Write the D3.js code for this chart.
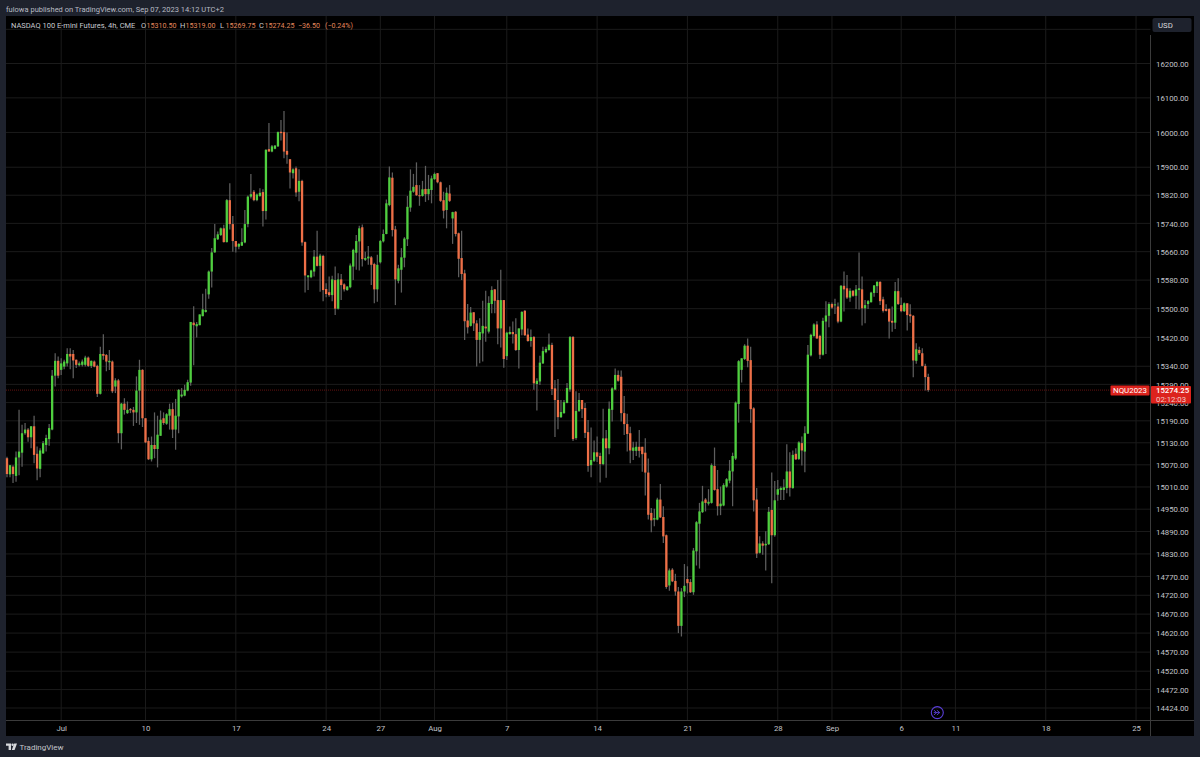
<!DOCTYPE html>
<html>
<head>
<meta charset="utf-8">
<script src="https://cdn.jsdelivr.net/npm/d3@7"></script>
<style>
    html, body { margin: 0; padding: 0; background: #1e222d; overflow: hidden; }
    svg { display: block; }
    text { font-family: Roboto, "Liberation Sans", sans-serif; }
</style>
</head>
<body>
<div class="chart"></div>
<script>
const opens = [
    15088,15044,15065,15040,15090,15103,15156,15166,15145,15175,
    15100,15059,15101,15124,15140,15166,15314,15355,15330,15339,
    15348,15374,15374,15358,15343,15344,15344,15364,15341,15353,
    15341,15264,15374,15371,15351,15353,15284,15301,15156,15237,
    15211,15222,15220,15213,15273,15330,15197,15135,15085,15124,
    15113,15149,15197,15182,15204,15222,15166,15202,15257,15259,
    15273,15295,15461,15451,15454,15479,15491,15540,15604,15658,
    15695,15707,15726,15687,15806,15738,15690,15674,15677,15686,
    15738,15816,15830,15806,15818,15829,15775,15952,15945,15953,
    15960,16002,16001,15947,15923,15883,15897,15830,15861,15687,
    15588,15588,15604,15646,15620,15648,15555,15546,15538,15580,
    15500,15582,15568,15552,15560,15618,15657,15689,15729,15637,
    15641,15644,15625,15554,15630,15689,15710,15792,15870,15723,
    15578,15609,15643,15695,15785,15830,15849,15820,15818,15838,
    15823,15835,15866,15883,15857,15806,15778,15825,15754,15773,
    15712,15642,15599,15467,15452,15490,15459,15413,15431,15450,
    15436,15513,15554,15524,15445,15524,15368,15429,15435,15429,
    15385,15442,15494,15428,15410,15421,15291,15298,15348,15379,
    15385,15399,15279,15247,15200,15211,15239,15276,15421,15143,
    15217,15247,15225,15159,15069,15081,15104,15094,15072,15142,
    15115,15220,15276,15316,15311,15211,15181,15156,15108,15108,
    15119,15119,15103,15049,14940,14922,14922,14976,14929,14880,
    14746,14788,14758,14730,14639,14730,14763,14755,14728,14837,
    14911,14942,14976,14965,14967,15067,15004,14958,14960,15011,
    15027,15052,15087,15236,15330,15360,15397,15357,15224,14976,
    14833,14858,14853,14856,14948,14880,14989,15002,15002,15007,
    15052,15007,15100,15086,15129,15106,15155,15370,15424,15456,
    15424,15372,15464,15480,15513,15510,15506,15464,15564,15557,
    15531,15550,15536,15552,15554,15501,15513,15518,15544,15563,
    15575,15526,15499,15499,15466,15461,15549,15510,15493,15515,
    15484,15480,15355,15385,15376,15341,15310.5
];
const highs = [
    15092,15069,15069,15106,15220,15179,15184,15170,15176,15204,
    15120,15115,15135,15152,15181,15330,15376,15367,15362,15358,
    15390,15390,15385,15359,15353,15359,15369,15367,15356,15356,
    15344,15394,15429,15374,15385,15356,15307,15305,15239,15252,
    15243,15225,15228,15312,15358,15332,15197,15145,15147,15213,
    15204,15218,15213,15211,15237,15239,15250,15277,15280,15289,
    15303,15463,15507,15463,15484,15542,15556,15607,15670,15738,
    15717,15728,15736,15809,15854,15761,15690,15684,15726,15778,
    15819,15881,15835,15825,15840,15837,15952,16027,15964,15964,
    16003,16036,16062,16000,15923,15897,15902,15894,15864,15689,
    15594,15609,15665,15719,15654,15651,15571,15590,15592,15618,
    15599,15597,15571,15563,15627,15668,15707,15733,15737,15660,
    15676,15648,15629,15651,15693,15723,15808,15902,15885,15733,
    15623,15670,15701,15818,15894,15881,15914,15849,15861,15904,
    15878,15876,15885,15883,15859,15830,15842,15849,15773,15775,
    15714,15719,15609,15513,15505,15490,15468,15473,15522,15550,
    15535,15563,15554,15580,15609,15524,15436,15450,15464,15473,
    15445,15493,15496,15445,15442,15424,15307,15369,15394,15394,
    15431,15405,15302,15305,15247,15247,15294,15424,15424,15271,
    15266,15247,15239,15192,15172,15136,15147,15103,15223,15165,
    15243,15282,15334,15328,15328,15258,15209,15174,15133,15133,
    15165,15119,15142,15087,14953,14951,14981,15018,14958,14882,
    14791,14792,14777,14742,14739,14803,14797,14763,14846,14918,
    14967,15013,14980,15004,15074,15117,15056,15011,15020,15034,
    15083,15103,15243,15357,15362,15401,15417,15394,15227,15007,
    14877,14864,14891,14956,15049,15026,15029,15011,15031,15126,
    15104,15109,15115,15134,15147,15175,15399,15430,15459,15465,
    15427,15475,15521,15518,15517,15528,15517,15566,15604,15594,
    15557,15552,15566,15658,15590,15524,15524,15547,15566,15577,
    15577,15533,15512,15501,15506,15575,15585,15531,15517,15515,
    15512,15482,15404,15394,15390,15347,15319
];
const lows = [
    15036,15036,15021,15024,15042,15065,15152,15133,15115,15074,
    15028,15036,15100,15106,15122,15164,15284,15307,15316,15332,
    15339,15332,15307,15335,15339,15339,15339,15338,15335,15337,
    15255,15262,15358,15326,15330,15266,15266,15129,15112,15207,
    15209,15211,15176,15184,15179,15173,15129,15083,15079,15088,
    15063,15149,15179,15179,15166,15143,15111,15156,15254,15257,
    15271,15286,15343,15420,15454,15479,15489,15528,15559,15657,
    15693,15704,15686,15686,15723,15660,15658,15667,15676,15684,
    15729,15811,15803,15803,15816,15731,15751,15945,15943,15952,
    15958,15977,15926,15910,15839,15868,15816,15803,15677,15545,
    15552,15585,15590,15618,15547,15521,15532,15533,15521,15482,
    15498,15524,15548,15550,15557,15580,15609,15607,15618,15634,
    15623,15566,15515,15519,15627,15686,15709,15789,15703,15510,
    15571,15545,15616,15676,15773,15827,15818,15790,15816,15801,
    15806,15797,15864,15854,15801,15754,15726,15801,15682,15703,
    15588,15580,15413,15431,15450,15438,15339,15348,15353,15408,
    15431,15487,15487,15401,15392,15336,15357,15428,15403,15382,
    15334,15426,15424,15408,15394,15275,15218,15288,15346,15376,
    15383,15261,15146,15167,15198,15209,15238,15270,15135,15138,
    15214,15198,15143,15051,15036,15078,15078,15022,15069,15035,
    15099,15188,15274,15297,15188,15151,15106,15074,15083,15094,
    15090,15051,14987,14922,14888,14904,14920,14926,14859,14737,
    14732,14755,14719,14620,14611,14715,14725,14726,14721,14799,
    14791,14940,14944,14960,14965,15000,14933,14934,14958,15008,
    15020,14958,15083,15185,15295,15357,15337,15185,14944,14819,
    14831,14828,14786,14854,14752,14876,14973,14975,14975,14993,
    14984,15005,15083,15083,15068,15050,15154,15367,15422,15416,
    15360,15370,15374,15448,15499,15485,15459,15462,15492,15527,
    15519,15533,15499,15498,15453,15459,15499,15517,15533,15544,
    15510,15489,15492,15417,15436,15443,15510,15490,15491,15439,
    15461,15310,15347,15371,15339,15273,15269.75
];
const closes = [
    15045,15069,15045,15090,15106,15156,15166,15145,15175,15097,
    15060,15109,15129,15143,15170,15314,15355,15314,15348,15353,
    15374,15367,15356,15344,15348,15353,15364,15341,15355,15339,
    15264,15374,15369,15353,15355,15271,15301,15156,15237,15220,
    15220,15219,15213,15273,15330,15197,15131,15085,15124,15113,
    15152,15193,15184,15208,15222,15166,15204,15275,15262,15275,
    15296,15463,15454,15457,15484,15498,15496,15604,15658,15698,
    15709,15726,15687,15806,15738,15690,15674,15682,15687,15738,
    15816,15823,15806,15822,15827,15775,15950,15945,15960,15962,
    16001,15998,15945,15936,15885,15894,15828,15861,15686,15593,
    15593,15607,15646,15620,15649,15552,15541,15538,15582,15500,
    15582,15566,15554,15562,15621,15665,15690,15726,15639,15642,
    15646,15623,15554,15623,15690,15710,15797,15871,15721,15582,
    15613,15644,15697,15787,15833,15844,15820,15818,15837,15823,
    15838,15868,15881,15857,15804,15776,15827,15804,15772,15710,
    15640,15597,15465,15448,15489,15459,15413,15435,15452,15445,
    15516,15552,15522,15445,15524,15360,15433,15435,15429,15385,
    15445,15491,15426,15410,15421,15293,15300,15350,15382,15388,
    15400,15277,15247,15200,15214,15241,15280,15421,15140,15217,
    15247,15222,15157,15067,15083,15104,15092,15072,15142,15115,
    15223,15279,15316,15300,15211,15181,15154,15109,15117,15119,
    15108,15099,15049,14935,14920,14926,14976,14928,14877,14742,
    14786,14757,14730,14639,14730,14745,14752,14728,14839,14915,
    14944,14971,14967,14970,15069,15002,14958,14965,15015,15031,
    15054,15094,15240,15354,15362,15397,15355,15222,14974,14831,
    14858,14852,14857,14943,14880,14974,15004,15007,15009,15052,
    15008,15097,15085,15131,15109,15156,15372,15427,15456,15417,
    15372,15466,15481,15513,15503,15512,15464,15564,15554,15531,
    15550,15536,15554,15557,15501,15510,15521,15545,15565,15575,
    15521,15494,15494,15464,15461,15549,15513,15493,15515,15482,
    15479,15356,15387,15376,15341,15310,15274.25
];

// bar index of each date label on the time axis
const timeTicks = [18, 46, 76, 106, 124, 142, 166, 196, 226, 256, 274, 297, 315, 345, 375];
const timeLabels = ['Jul', '10', '17', '24', '27', 'Aug', '7', '14', '21', '28', 'Sep', '6', '11', '18', '25'];
const priceTicks = [16200, 16100, 16000, 15900, 15820, 15740, 15660, 15580, 15500, 15420, 15340, 15290,
    15240, 15190, 15130, 15070, 15010, 14950, 14890, 14830, 14770, 14720, 14670, 14620, 14570, 14520, 14472, 14424];
const extraGridPrices = [16300];
const lastPrice = 15274.25;
const legendParts = [
    ['O', '15310.50'], ['H', '15319.00'], ['L', '15269.75'], ['C', '15274.25']
];

const width = 1200;
const height = 757;
const panel = { left: 6, right: 1194, top: 16, bottom: 736 };
const axisX = 1150.5;
const axisY = 720.5;

const up = '#4fcf3f';
const down = '#ee6f47';
const wickColor = '#5e5e5e';
const gridColor = '#1b1b1b';
const red = '#dc231d';
const textColor = '#c2c4ca';
const orange = '#e58a5e';

const x = d3.scaleLinear().domain([0, 306]).range([7, 928.3]);
const y = d3.scaleLog().domain([16200, 14424]).range([63.5, 708]);

const svg = d3.select('.chart').append('svg').attr('width', width).attr('height', height);

svg.append('rect').attr('width', width).attr('height', height).attr('fill', '#1e222d');
svg.append('rect')
    .attr('x', panel.left).attr('y', panel.top)
    .attr('width', panel.right - panel.left).attr('height', panel.bottom - panel.top)
    .attr('fill', '#000');

// grid
const grid = svg.append('g');
grid.selectAll('.h').data(priceTicks.concat(extraGridPrices)).enter().append('line')
    .attr('x1', panel.left).attr('x2', axisX)
    .attr('y1', d => y(d)).attr('y2', d => y(d))
    .attr('stroke', gridColor);
grid.selectAll('.v').data(timeTicks).enter().append('line')
    .attr('x1', d => x(d)).attr('x2', d => x(d))
    .attr('y1', panel.top).attr('y2', axisY)
    .attr('stroke', gridColor);

// last price line
svg.append('line')
    .attr('x1', panel.left).attr('x2', axisX)
    .attr('y1', y(lastPrice)).attr('y2', y(lastPrice))
    .attr('stroke', '#641210').attr('stroke-dasharray', '1,1');

// candles
const bars = d3.range(opens.length);
svg.append('g').selectAll('line').data(bars).enter().append('line')
    .attr('x1', i => x(i)).attr('x2', i => x(i))
    .attr('y1', i => y(highs[i])).attr('y2', i => y(lows[i]))
    .attr('stroke', wickColor).attr('stroke-width', 1.25);
svg.append('g').selectAll('rect').data(bars).enter().append('rect')
    .attr('x', i => x(i) - 1.15)
    .attr('width', 2.3)
    .attr('y', i => y(Math.max(opens[i], closes[i])))
    .attr('height', i => Math.max(1, Math.abs(y(opens[i]) - y(closes[i]))))
    .attr('fill', i => closes[i] >= opens[i] ? up : down);

// price axis
const yAxis = d3.axisRight(y).tickValues(priceTicks).tickSize(0).tickPadding(0).tickFormat(d3.format('.2f'));
const yAxisG = svg.append('g').attr('transform', `translate(${axisX + 5.5},0)`).call(yAxis);
yAxisG.select('.domain').remove();
yAxisG.selectAll('text').attr('fill', textColor).attr('font-size', 7.8).attr('dy', '0.35em')
    .style('font-family', 'Roboto');

// time axis
const xAxis = d3.axisBottom(x).tickValues(timeTicks).tickSize(0).tickPadding(0)
    .tickFormat(d => timeLabels[timeTicks.indexOf(d)]);
const xAxisG = svg.append('g').attr('transform', `translate(0,${axisY + 4.5})`).call(xAxis);
xAxisG.select('.domain').remove();
xAxisG.selectAll('text').attr('fill', textColor).attr('font-size', 7.8);

// axis borders
svg.append('line').attr('x1', panel.left).attr('x2', panel.right).attr('y1', axisY).attr('y2', axisY).attr('stroke', '#3b3b3b');
svg.append('line').attr('x1', axisX).attr('x2', axisX).attr('y1', 35).attr('y2', panel.bottom).attr('stroke', '#3b3b3b');

// USD button
svg.append('rect').attr('x', 1152.5).attr('y', 18).attr('width', 39).attr('height', 14).attr('rx', 2).attr('fill', '#1e222d');
svg.append('text').attr('x', 1158).attr('y', 28).attr('font-size', 7.8).attr('fill', '#d8d9dc').text('USD');

// last price labels
svg.append('rect').attr('x', 1110.5).attr('y', 385.5).attr('width', 39).attr('height', 10).attr('rx', 1).attr('fill', red);
svg.append('text').attr('x', 1130).attr('y', 393.3).attr('text-anchor', 'middle').attr('font-size', 7.9).attr('fill', '#fff').text('NQU2023');
svg.append('rect').attr('x', 1151).attr('y', 386).attr('width', 40).attr('height', 17.5).attr('rx', 1).attr('fill', red);
svg.append('text').attr('x', 1156).attr('y', 393.3).attr('font-size', 7.8).attr('font-weight', 500).attr('fill', '#fff').text('15274.25');
svg.append('text').attr('x', 1156).attr('y', 401.5).attr('font-size', 7.8).attr('fill', '#f3c9c7').text('02:12:03');

// header and legend
svg.append('text').attr('x', 6).attr('y', 12).attr('font-size', 7.5).attr('fill', '#b8bbc3')
    .text('fulowa published on TradingView.com, Sep 07, 2023 14:12 UTC+2');
svg.append('text').attr('x', 11).attr('y', 27.8).attr('font-size', 7.5).attr('fill', '#c9cbd0')
    .text('NASDAQ 100 E-mini Futures, 4h, CME');

const legendX = [141, 180, 220, 259];
legendParts.forEach(function (d, i) {
    svg.append('text').attr('x', legendX[i]).attr('y', 27.8).attr('font-size', 7.5).attr('fill', '#c9cbd0').text(d[0]);
    svg.append('text').attr('x', legendX[i] + 5.6).attr('y', 27.8).attr('font-size', 7.1).attr('fill', orange).text(d[1]);
});
svg.append('text').attr('x', 298).attr('y', 27.8).attr('font-size', 7.1).attr('fill', orange).text('\u221236.50');
svg.append('text').attr('x', 325).attr('y', 27.8).attr('font-size', 7.1).attr('fill', orange).text('(\u22120.24%)');

// jump to realtime button
const jump = svg.append('g').attr('transform', 'translate(937.3,712.6)');
jump.append('circle').attr('r', 6).attr('fill', 'none').attr('stroke', '#5a3fd8').attr('stroke-width', 1.1);
jump.append('path').attr('d', 'M-3.4,-2.4 L-0.6,0 L-3.4,2.4 M-0.4,-2.4 L2.4,0 L-0.4,2.4 M-3.6,0 L2.4,0')
    .attr('fill', 'none').attr('stroke', '#5a3fd8').attr('stroke-width', 0.9);

// TradingView logo
svg.append('path')
    .attr('d', 'M6,743.5 H11 V750 H8.6 V745.8 H6 Z M14.2,743.5 H17 L14.6,750 H11.8 Z')
    .attr('fill', '#d6d8dc');
svg.append('circle').attr('cx', 12.6).attr('cy', 744.8).attr('r', 1.2).attr('fill', '#d6d8dc');
svg.append('text').attr('x', 19.5).attr('y', 750).attr('font-size', 8).attr('fill', '#c4c6cb').text('TradingView');
</script>
</body>
</html>
